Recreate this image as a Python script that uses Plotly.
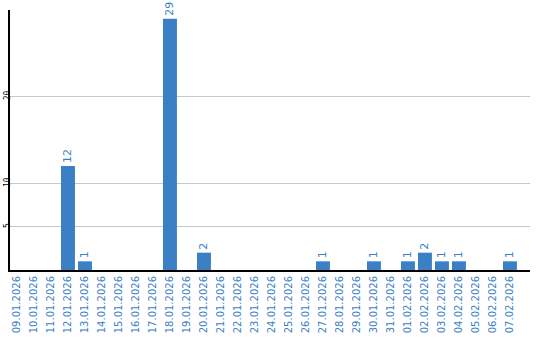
import plotly.graph_objects as go

dates = ["09.01.2026","10.01.2026","11.01.2026","12.01.2026","13.01.2026","14.01.2026",
         "15.01.2026","16.01.2026","17.01.2026","18.01.2026","19.01.2026","20.01.2026",
         "21.01.2026","22.01.2026","23.01.2026","24.01.2026","25.01.2026","26.01.2026",
         "27.01.2026","28.01.2026","29.01.2026","30.01.2026","31.01.2026","01.02.2026",
         "02.02.2026","03.02.2026","04.02.2026","05.02.2026","06.02.2026","07.02.2026"]
values = [0,0,0,12,1,0,0,0,0,29,0,2,0,0,0,0,0,0,1,0,0,1,0,1,2,1,1,0,0,1]
texts = [str(v) if v > 0 else "" for v in values]
y_ticks = [5, 10, 20]

blue = "#3b7fc4"
fig = go.Figure(go.Bar(
    x=dates, y=values, text=texts, textposition="outside", textangle=-90,
    textfont=dict(color=blue, size=11, family="DejaVu Sans"),
    marker=dict(color=blue, line=dict(width=0)), cliponaxis=False,
))
fig.update_layout(
    width=540, height=340, margin=dict(l=10, r=10, t=10, b=70),
    paper_bgcolor="white", plot_bgcolor="white", bargap=0.18, showlegend=False,
    font=dict(family="DejaVu Sans"),
)
fig.update_xaxes(type="category", range=[-0.41, 30.18], tickangle=-90, automargin=False,
                 tickfont=dict(color=blue, size=10, family="DejaVu Sans"),
                 showline=True, linecolor="black", linewidth=2, showgrid=False, ticks="")
fig.update_yaxes(range=[0, 30], tickvals=y_ticks, tickangle=-90, automargin=False,
                 tickfont=dict(color="black", size=8, family="DejaVu Sans Mono"),
                 showline=True, linecolor="black", linewidth=2, ticklabelstandoff=-5,
                 showgrid=True, gridcolor="#c8c8c8", gridwidth=1, zeroline=False, ticks="")
fig.write_html("out.html")
